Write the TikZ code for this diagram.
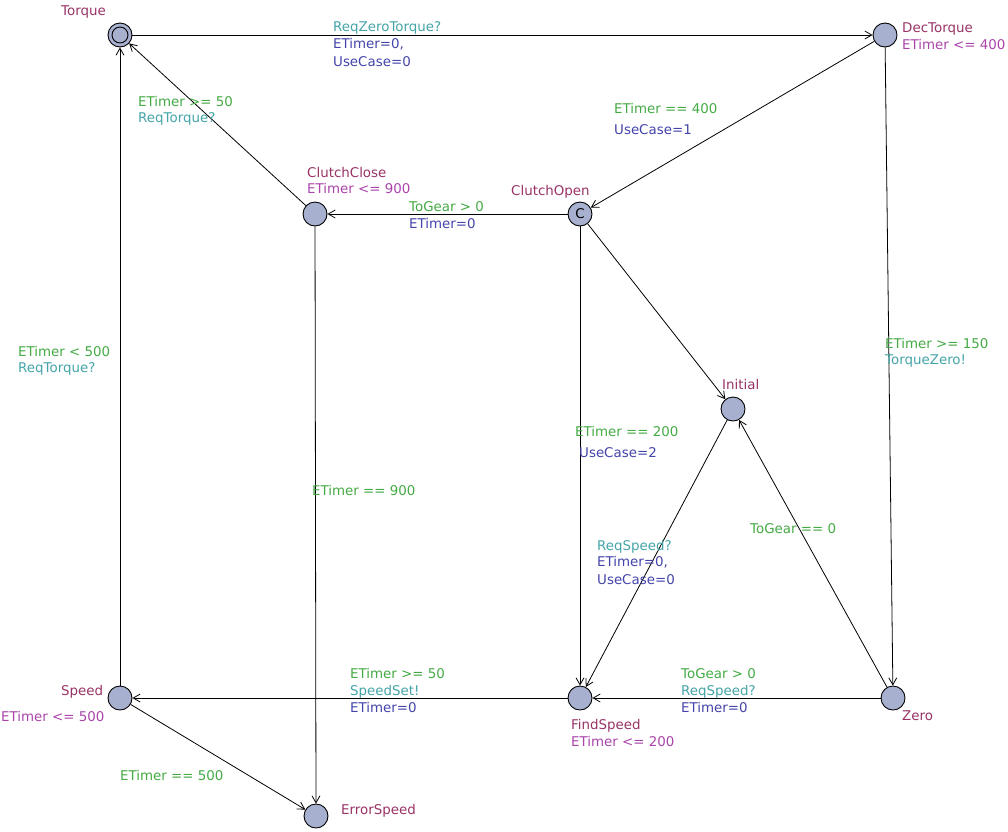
\documentclass[tikz,border=0pt]{standalone}
\usepackage{fontspec}
\setmainfont{DejaVu Sans}
\usetikzlibrary{arrows.meta}
\definecolor{locfill}{HTML}{A8B0D0}
\definecolor{namecol}{HTML}{993366}
\definecolor{invcol}{HTML}{AA44AA}
\definecolor{guardcol}{HTML}{44AA44}
\definecolor{synccol}{HTML}{44A4A8}
\definecolor{assigncol}{HTML}{4444AA}
\tikzset{
  % location circle
  loc/.style={circle, fill=locfill, draw=black, line width=0.9pt,
              inner sep=0pt, minimum size=24pt},
  % transition arrow
  trans/.style={-{Straight Barb[length=7pt,width=8pt]}, line width=0.8pt},
  % label texts, placed by left end and baseline (last line)
  lbl/.style={anchor=base west, inner sep=0pt, align=left},
  locname/.style={lbl, text=namecol},
  inv/.style={lbl, text=invcol},
  guard/.style={lbl, text=guardcol},
  sync/.style={lbl, text=synccol},
  assign/.style={lbl, text=assigncol},
}

\begin{document}
\begin{tikzpicture}[x=1pt, y=-1pt, font=\fontsize{13.4}{17.3}\selectfont]
  \useasboundingbox (0,0) rectangle (1008,831);
  % locations
  \foreach \n/\x/\y in {Torque/120/35, DecTorque/885/35, ClutchClose/315/214,
                        Initial/733/409, Speed/120/698, FindSpeed/580/698,
                        Zero/893/698, ErrorSpeed/316/816}
    \node[loc] (\n) at (\x,\y) {};
  \node[loc] (ClutchOpen) at (580,214) {C};
  \draw[line width=0.9pt] (Torque.center) circle (8pt);
  % transitions
  \foreach \a/\b in {Torque/DecTorque, DecTorque/ClutchOpen, DecTorque/Zero,
                     ClutchOpen/ClutchClose, ClutchClose/Torque, ClutchOpen/Initial,
                     ClutchOpen/FindSpeed, Initial/FindSpeed, Zero/Initial,
                     Zero/FindSpeed, FindSpeed/Speed, Speed/Torque,
                     Speed/ErrorSpeed, ClutchClose/ErrorSpeed}
    \draw[trans] (\a) -- (\b);
  % location names and invariants
  \node[locname] (nTorque) at (61,15) {Torque};
  \node[locname] (nDecTorque) at (902,32) {DecTorque};
  \node[inv] (iDecTorque) at (902,49) {ETimer <= 400};
  \node[locname] (nClutchClose) at (307,177) {ClutchClose};
  \node[inv] (iClutchClose) at (307,193) {ETimer <= 900};
  \node[locname] (nClutchOpen) at (511,195) {ClutchOpen};
  \node[locname] (nInitial) at (722,389) {Initial};
  \node[locname] (nSpeed) at (61,695) {Speed};
  \node[inv] (iSpeed) at (1,721) {ETimer <= 500};
  \node[locname] (nFindSpeed) at (571,729) {FindSpeed};
  \node[inv] (iFindSpeed) at (571,746) {ETimer <= 200};
  \node[locname] (nZero) at (902,720) {Zero};
  \node[locname] (nErrorSpeed) at (341,814) {ErrorSpeed};
  % transition labels
  \node[sync] (sTD) at (333,31) {ReqZeroTorque?};
  \node[assign] (aTD) at (333,66) {ETimer=0,\\UseCase=0};
  \node[guard] (gDC) at (614,113) {ETimer == 400};
  \node[assign] (aDC) at (614,134) {UseCase=1};
  \node[guard] (gDZ) at (885,348) {ETimer >= 150};
  \node[sync] (sDZ) at (885,364) {TorqueZero!};
  \node[guard] (gOC) at (409,211) {ToGear > 0};
  \node[assign] (aOC) at (409,228) {ETimer=0};
  \node[guard] (gCT) at (138,106) {ETimer >= 50};
  \node[sync] (sCT) at (138,122) {ReqTorque?};
  \node[guard] (gOF) at (575,436) {ETimer == 200};
  \node[assign] (aOF) at (579,457) {UseCase=2};
  \node[sync] (sIF) at (597,550) {ReqSpeed?};
  \node[assign] (aIF) at (597,584) {ETimer=0,\\UseCase=0};
  \node[guard] (gZI) at (750,533) {ToGear == 0};
  \node[guard] (gZF) at (681,678) {ToGear > 0};
  \node[sync] (sZF) at (681,695) {ReqSpeed?};
  \node[assign] (aZF) at (681,712) {ETimer=0};
  \node[guard] (gFS) at (350,678) {ETimer >= 50};
  \node[sync] (sFS) at (350,695) {SpeedSet!};
  \node[assign] (aFS) at (350,712) {ETimer=0};
  \node[guard] (gST) at (18,356) {ETimer < 500};
  \node[sync] (sST) at (18,372) {ReqTorque?};
  \node[guard] (gSE) at (120,780) {ETimer == 500};
  \node[guard] (gCE) at (312,495) {ETimer == 900};
\end{tikzpicture}
\end{document}
